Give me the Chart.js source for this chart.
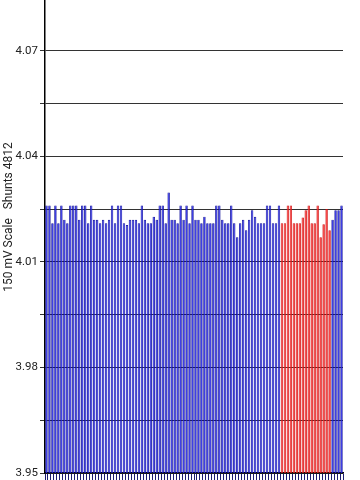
<!DOCTYPE html>
<html><head><meta charset="utf-8">
<script src="https://cdn.jsdelivr.net/npm/chart.js@4"></script>
<style>
html,body{margin:0;padding:0;background:#fff;overflow:hidden;width:360px;height:480px;}
#wrap{position:absolute;left:0;top:-48px;width:360px;height:530px;}
</style></head><body>
<div id="wrap"><canvas id="c"></canvas></div>
<script>
const categories = ['1','2','3','4','5','6','7','8','9','10','11','12','13','14','15','16','17','18','19','20',
'21','22','23','24','25','26','27','28','29','30','31','32','33','34','35','36','37','38','39','40',
'41','42','43','44','45','46','47','48','49','50','51','52','53','54','55','56','57','58','59','60',
'61','62','63','64','65','66','67','68','69','70','71','72','73','74','75','76','77','78','79','80',
'81','82','83','84','85','86','87','88','89','90','91','92','93','94','95','96','97','98','99','100'];

const blueValues = [
4.026,4.026,4.021,4.026,4.021,4.026,4.022,4.021,4.026,4.026,
4.026,4.022,4.026,4.026,4.021,4.026,4.022,4.022,4.021,4.022,
4.021,4.022,4.026,4.021,4.026,4.026,4.021,4.0205,4.022,4.022,
4.022,4.021,4.026,4.022,4.021,4.021,4.0228,4.022,4.026,4.026,
4.021,4.0297,4.022,4.022,4.021,4.026,4.022,4.026,4.021,4.026,
4.022,4.022,4.021,4.0228,4.021,4.021,4.021,4.026,4.026,4.022,
4.021,4.021,4.026,4.021,4.017,4.021,4.022,4.019,4.022,4.0247,
4.0228,4.021,4.021,4.021,4.026,4.026,4.021,4.021,4.026];
const redValues = [4.021,4.021,4.026,4.026,4.021,4.021,4.021,4.0226,4.0247,4.026,4.021,4.021,4.026,4.017,4.0207,4.025,4.019];
const tailValues = [4.022,4.0247,4.0247,4.026];

const tickValues = [3.95,3.965,3.98,3.995,4.01,4.025,4.04,4.055,4.07];
const tickLabels = ['3.95','','3.98','','4.01','','4.04','','4.07'];
const axisTitle = '150 mV Scale   Shunts 4812';

const values = blueValues.concat(redValues, tailValues);
const fills = [], borders = [];
blueValues.forEach(()=>{fills.push('#2222e4');borders.push('#0b0b96');});
redValues.forEach(()=>{fills.push('#f82828');borders.push('#cc1010');});
tailValues.forEach(()=>{fills.push('#2222e4');borders.push('#0b0b96');});

new Chart(document.getElementById('c'), {
  type: 'bar',
  data: { labels: categories, datasets: [{ data: values, backgroundColor: fills, borderColor: borders, borderWidth: 0.8, barPercentage: 0.82, categoryPercentage: 1 }] },
  options: {
    responsive: true, maintainAspectRatio: false, animation: false,
    layout: { padding: { left: 0, right: 17, top: 0, bottom: 0 } },
    plugins: { legend: { display: false }, tooltip: { enabled: false } },
    scales: {
      x: {
        grid: { display: true, drawOnChartArea: false, drawTicks: true, tickLength: 8, color: '#1c1c70' },
        ticks: { display: false },
        border: { display: true, color: '#000', width: 1.5 }
      },
      y: {
        min: 3.95, max: 4.0955, z: 1,
        afterBuildTicks: s => { s.ticks = tickValues.map(v => ({ value: v })); },
        afterFit: s => { s.width = 45; },
        ticks: { callback: (v, i) => tickLabels[i], font: { size: 11.5, family: 'Roboto' }, color: '#222', padding: 2 },
        grid: { color: '#333', tickLength: 5, lineWidth: 1 },
        border: { color: '#000', width: 1.5 },
        title: { display: true, text: axisTitle, font: { size: 12, family: 'Roboto' }, color: '#222', padding: { top: 2, bottom: 0 } }
      }
    }
  }
});
</script>
</body></html>
